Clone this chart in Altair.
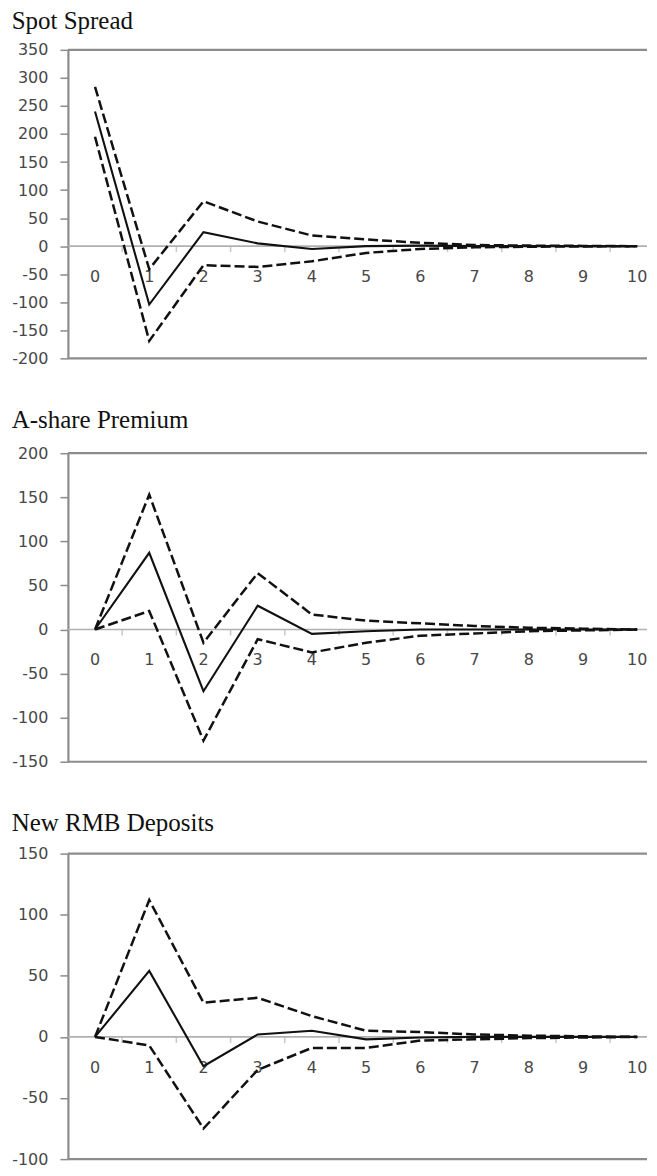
import altair as alt
import pandas as pd

steps = list(range(11))
step_labels = [str(s) for s in steps]

spot_mean  = [240, -104, 25, 5, -5, 0, 1, 0, 0, 0, 0]
spot_upper = [284, -41, 80, 44, 19, 12, 6, 2, 1, 0.5, 0]
spot_lower = [195, -169, -34, -37, -27, -12, -5, -2, -1, -0.5, 0]
spot_ticks = [-200, -150, -100, -50, 0, 50, 100, 150, 200, 250, 300, 350]

ashare_mean  = [0, 87, -70, 27, -5, -2, 0, 0, 0, 0, 0]
ashare_upper = [0, 153, -15, 64, 17, 10, 7, 4, 2, 1, 0]
ashare_lower = [0, 21, -126, -11, -26, -15, -7, -4.5, -2, -1, 0]
ashare_ticks = [-150, -100, -50, 0, 50, 100, 150, 200]

dep_mean  = [0, 54, -24, 2, 5, -2, -0.5, 0, 0, 0, 0]
dep_upper = [0, 112, 28, 32, 17, 5, 4, 2, 1, 0.5, 0]
dep_lower = [0, -7, -75, -27, -9, -9, -3, -2, -1, -0.5, 0]
dep_ticks = [-100, -50, 0, 50, 100, 150]

W = 580
XMAX = 10.18
GRAY = "#8c8c8c"
LIGHT = "#b0b0b0"
LABEL = "#484848"
LABEL_FONT = "DejaVu Sans"


def panel(title, mean, upper, lower, yticks, title_offset, H):
    n = len(steps)
    df = pd.DataFrame({
        "step": steps * 3,
        "value": mean + upper + lower,
        "series": ["mean"] * n + ["upper"] * n + ["lower"] * n,
    })
    xs = alt.Scale(domain=[-0.5, XMAX], nice=False, zero=False)
    ys = alt.Scale(domain=[min(yticks), max(yticks)], nice=False, zero=False)

    yaxis = alt.Axis(
        values=yticks, title=None, grid=False,
        domain=True, domainColor=GRAY, domainWidth=2.2,
        ticks=True, tickColor=GRAY, tickWidth=1.5, tickSize=8,
        labelFont=LABEL_FONT, labelFontSize=16, labelColor=LABEL,
        labelPadding=12,
        labelExpr="datum.value < 0 ? '-' + abs(datum.value) : '' + datum.value",
    )

    zero_df = pd.DataFrame({"zero": [0]})
    zero_line = alt.Chart(zero_df).mark_rule(
        color=LIGHT, strokeWidth=1.6).encode(
        y=alt.Y("zero:Q", scale=ys, axis=yaxis))

    one = pd.DataFrame({"k": [0]})
    top_border = alt.Chart(one).mark_rule(color=GRAY, strokeWidth=2.2).encode(
        x=alt.value(0), x2=alt.value(W), y=alt.value(0))
    bottom_border = alt.Chart(one).mark_rule(color=GRAY, strokeWidth=2.2).encode(
        x=alt.value(0), x2=alt.value(W), y=alt.value(H))

    bdf = pd.DataFrame({"b": [s + 0.5 for s in steps[:-1]], "zero": 0})
    xticks = alt.Chart(bdf).mark_tick(
        orient="vertical", size=6, thickness=1.5, color=LIGHT, yOffset=3).encode(
        x=alt.X("b:Q", scale=xs, axis=None),
        y=alt.Y("zero:Q", scale=ys, axis=yaxis))

    ldf = pd.DataFrame({"step": steps, "label": step_labels, "zero": 0})
    xlabels = alt.Chart(ldf).mark_text(
        font=LABEL_FONT, fontSize=16, color=LABEL, dy=31, baseline="middle").encode(
        x=alt.X("step:Q", scale=xs, axis=None),
        y=alt.Y("zero:Q", scale=ys, axis=yaxis),
        text="label:N")

    base = alt.Chart(df)
    bands = base.transform_filter(alt.datum.series != "mean").mark_line(
        color="#111111", strokeWidth=2.5, strokeDash=[10, 4]).encode(
        x=alt.X("step:Q", scale=xs, axis=None),
        y=alt.Y("value:Q", scale=ys, axis=yaxis),
        detail="series:N")
    center = base.transform_filter(alt.datum.series == "mean").mark_line(
        color="#111111", strokeWidth=2.1).encode(
        x=alt.X("step:Q", scale=xs, axis=None),
        y=alt.Y("value:Q", scale=ys, axis=yaxis))

    return alt.layer(zero_line, top_border, bottom_border, xticks, xlabels, bands, center).properties(
        width=W, height=H,
        title=alt.TitleParams(
            text=title, font="Liberation Serif", fontSize=25, fontWeight="normal",
            anchor="start", color="#111111", offset=title_offset),
    )


p1 = panel("Spot Spread", spot_mean, spot_upper, spot_lower, spot_ticks, 7.5, 309)
p2 = panel("A-share Premium", ashare_mean, ashare_upper, ashare_lower, ashare_ticks, 12.2, 309)
p3 = panel("New RMB Deposits", dep_mean, dep_upper, dep_lower, dep_ticks, 10, 306)

chart = alt.vconcat(p1, p2, p3, spacing=41).properties(
    padding={"left": 3, "top": 0, "right": 0, "bottom": 0}
).configure_view(stroke=None)

chart.save("out.html", embed_options={"renderer": "svg", "actions": False})
